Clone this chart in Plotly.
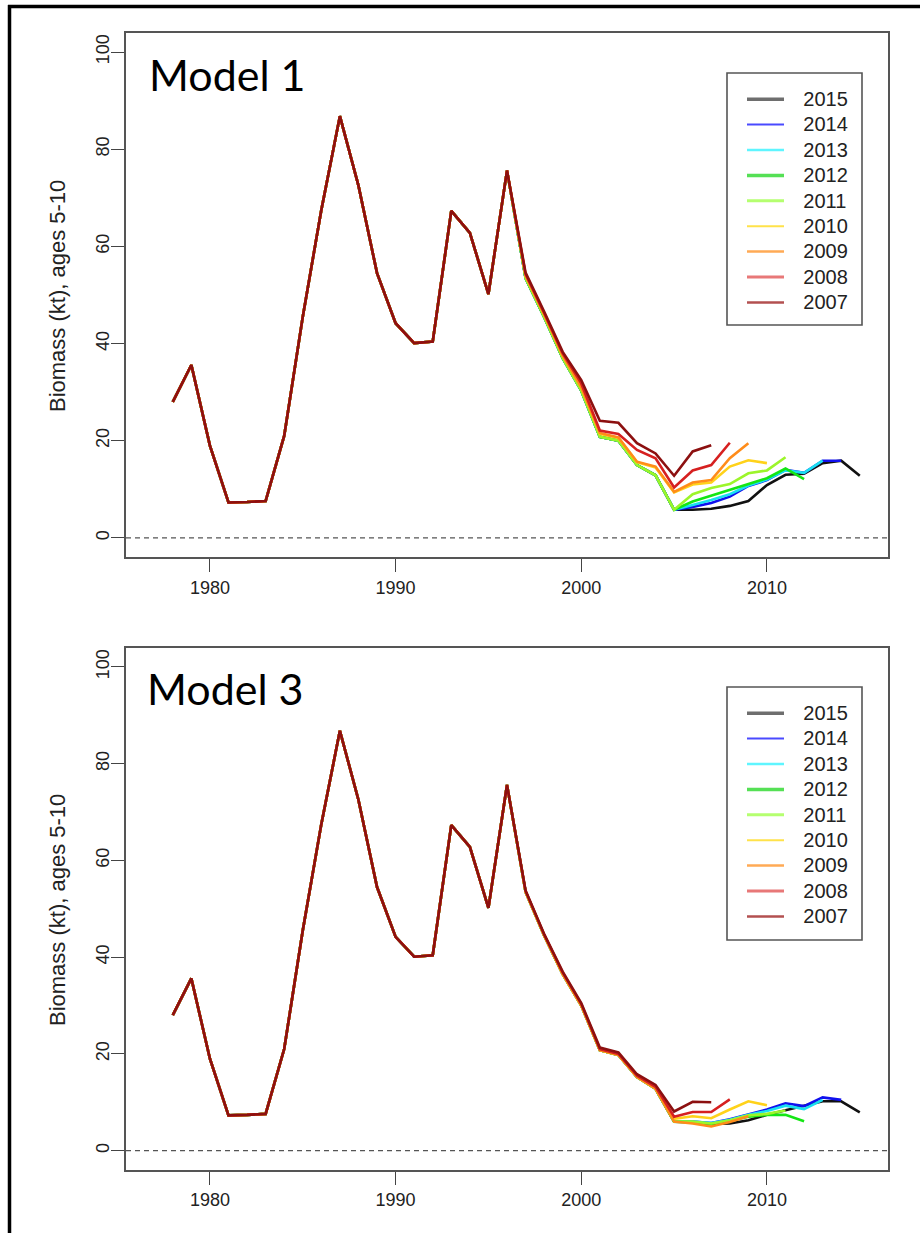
import plotly.graph_objects as go

# ---- data -------------------------------------------------------------
# Shared early biomass history (kt), 1978-1996
early_years = list(range(1978, 1997))
early_biomass = [28.0, 35.6, 19.0, 7.3, 7.4, 7.6, 21.0, 45.5, 67.5, 86.8,
                 72.5, 54.5, 44.2, 40.1, 40.4, 67.3, 62.8, 50.2, 75.6]

# Assessment (terminal) years, in drawing order
runs = [2015, 2014, 2013, 2012, 2011, 2010, 2009, 2008, 2007]

# Model 1: estimates from 1997 up to each run's terminal year
m1_2015 = [53.5, 45.5, 37.0, 30.3, 20.8, 20.0, 15.0, 12.9, 5.8, 5.8, 6.0, 6.6, 7.6, 10.9, 13.0, 13.2, 15.4, 15.9, 12.8]
m1_2014 = [53.5, 45.5, 37.0, 30.3, 20.8, 20.0, 15.0, 12.9, 5.8, 6.4, 7.2, 8.5, 10.7, 11.9, 14.0, 13.4, 15.9, 15.9]
m1_2013 = [53.5, 45.5, 37.0, 30.3, 20.8, 20.0, 15.0, 12.9, 5.8, 6.8, 7.8, 9.0, 10.8, 12.0, 13.9, 13.4, 15.9]
m1_2012 = [53.5, 45.5, 37.0, 30.3, 20.8, 20.0, 15.0, 12.9, 5.8, 7.5, 8.7, 9.9, 11.2, 12.3, 14.3, 12.1]
m1_2011 = [53.5, 45.5, 37.0, 30.3, 20.8, 20.0, 15.0, 12.9, 5.8, 9.0, 10.3, 11.1, 13.3, 13.9, 16.6]
m1_2010 = [54.0, 46.0, 37.5, 31.0, 21.4, 20.6, 15.6, 14.5, 9.4, 11.0, 11.4, 14.7, 16.0, 15.4]
m1_2009 = [54.0, 46.0, 37.5, 31.0, 21.6, 20.7, 15.7, 14.7, 9.5, 11.4, 11.9, 16.4, 19.5]
m1_2008 = [54.3, 46.3, 38.0, 31.8, 22.1, 21.4, 18.1, 16.4, 10.4, 13.9, 15.0, 19.6]
m1_2007 = [54.6, 46.6, 38.3, 32.5, 24.1, 23.7, 19.5, 17.4, 12.8, 17.8, 19.1]

# Model 3
m3_2015 = [53.5, 44.5, 36.5, 30.0, 20.8, 19.8, 15.2, 12.8, 6.0, 5.9, 5.5, 5.6, 6.3, 7.4, 8.3, 9.3, 10.2, 10.2, 7.9]
m3_2014 = [53.5, 44.5, 36.5, 30.0, 20.8, 19.8, 15.2, 12.8, 6.1, 6.0, 5.7, 6.5, 7.5, 8.5, 9.8, 9.2, 11.0, 10.5]
m3_2013 = [53.5, 44.5, 36.5, 30.0, 20.8, 19.8, 15.2, 12.8, 6.1, 6.0, 5.7, 6.4, 7.4, 8.2, 9.3, 8.6, 10.5]
m3_2012 = [53.5, 44.5, 36.5, 30.0, 20.8, 19.8, 15.2, 12.8, 6.0, 5.9, 5.5, 6.2, 7.0, 7.4, 7.4, 6.1]
m3_2011 = [53.5, 44.5, 36.5, 30.0, 20.8, 19.8, 15.2, 12.8, 6.0, 6.0, 5.6, 6.3, 7.3, 7.6, 8.3]
m3_2010 = [53.5, 44.5, 36.5, 30.0, 20.8, 19.8, 15.2, 12.8, 6.6, 7.1, 6.7, 8.5, 10.2, 9.4]
m3_2009 = [53.5, 44.5, 36.5, 30.0, 20.8, 19.8, 15.2, 12.8, 6.0, 5.6, 5.0, 5.9, 7.1]
m3_2008 = [53.7, 44.7, 36.8, 30.3, 21.0, 20.0, 15.5, 13.2, 7.0, 8.0, 8.0, 10.6]
m3_2007 = [53.8, 44.8, 37.0, 30.5, 21.3, 20.3, 15.8, 13.6, 8.1, 10.1, 10.0]

model1 = [m1_2015, m1_2014, m1_2013, m1_2012, m1_2011, m1_2010, m1_2009, m1_2008, m1_2007]
model3 = [m3_2015, m3_2014, m3_2013, m3_2012, m3_2011, m3_2010, m3_2009, m3_2008, m3_2007]

y_ticks = [0, 20, 40, 60, 80, 100]
x_ticks = [1980, 1990, 2000, 2010]
y_title = "Biomass (kt), ages 5-10"

# ---- styling ----------------------------------------------------------
line_colors = ["#111111", "#1010ee", "#19e0f0", "#14e614", "#9cf52a",
               "#ffd21a", "#ff8c1a", "#d62020", "#8c1010"]
key_colors = ["#6e6e6e", "#4a4aff", "#5ff5ff", "#55e055", "#b5ff70",
              "#ffe24a", "#ffaa55", "#e87878", "#b35050"]
key_widths = [3.5, 2, 2.5, 3.5, 3, 2, 2.5, 3, 2.5]

W, H = 920, 1233
x_dom = [126 / W, 888 / W]
top_dom = [1 - 557.4 / H, 1 - 32.6 / H]
bot_dom = [1 - 1170 / H, 1 - 647.6 / H]

SANS = "Liberation Sans, Arial, sans-serif"
tick_font = dict(family=SANS, size=18, color="#222")

fig = go.Figure()

panels = [("x", "y", "legend", model1), ("x2", "y2", "legend2", model3)]
for xa, ya, leg, model in panels:
    for run, vals, col in zip(runs, model, line_colors):
        yrs = early_years + list(range(1997, run + 1))
        fig.add_trace(go.Scatter(
            x=yrs, y=early_biomass + vals, mode="lines",
            line=dict(color=col, width=2.6), xaxis=xa, yaxis=ya,
            showlegend=False, hoverinfo="skip"))
    # legend keys
    for run, kc, kw in zip(runs, key_colors, key_widths):
        fig.add_trace(go.Scatter(
            x=[None], y=[None], mode="lines",
            name="\u00a0\u00a0\u00a0<span style='font-size:20px'>%d</span>" % run,
            line=dict(color=kc, width=kw), xaxis=xa, yaxis=ya,
            legend=leg, showlegend=True))

xcommon = dict(range=[1975.48, 2016.52], tickvals=x_ticks, ticks="outside",
               ticklen=13, tickwidth=1, tickcolor="#444", showline=True,
               mirror=True, linecolor="#555", linewidth=1.6, showgrid=False,
               zeroline=False, tickfont=tick_font, domain=x_dom)
ycommon = dict(range=[-4, 104], tickvals=y_ticks, ticks="outside",
               ticklen=13, tickwidth=1, tickcolor="#444", showline=True,
               mirror=True, linecolor="#555", linewidth=1.6, showgrid=False,
               zeroline=False, tickfont=tick_font, tickangle=-90,
               ticklabelstandoff=-5)

legend_common = dict(xanchor="left", yanchor="top", borderwidth=0,
                     bgcolor="rgba(0,0,0,0)",
                     font=dict(family=SANS, size=17.23, color="#222"),
                     itemwidth=37)

# legend frames
legend_boxes = [(727, 73, 862, 325), (727, 687, 862, 940)]
frame_shapes = [dict(type="rect", xref="paper", yref="paper",
                     x0=a / W, x1=c / W, y0=1 - d / H, y1=1 - b / H,
                     line=dict(color="#555", width=1.6), fillcolor="white",
                     layer="below")
                for a, b, c, d in legend_boxes]

title_font = dict(family=SANS, size=22, color="#222")

fig.update_layout(
    width=W, height=H, margin=dict(l=0, r=0, t=0, b=0),
    paper_bgcolor="white", plot_bgcolor="white",
    xaxis=dict(**xcommon, anchor="y"),
    yaxis=dict(**ycommon, domain=top_dom, anchor="x"),
    xaxis2=dict(**xcommon, anchor="y2"),
    yaxis2=dict(**ycommon, domain=bot_dom, anchor="x2"),
    legend=dict(**legend_common, x=742 / W, y=1 - 81.5 / H),
    legend2=dict(**legend_common, x=742 / W, y=1 - 695.5 / H),
    annotations=[
        dict(text="Model 1", x=147 / W, y=1 - 74 / H, xref="paper", yref="paper",
             xanchor="left", yanchor="middle", showarrow=False,
             font=dict(family="Lato, sans-serif", size=43, color="black")),
        dict(text="Model 3", x=145 / W, y=1 - 688 / H, xref="paper", yref="paper",
             xanchor="left", yanchor="middle", showarrow=False,
             font=dict(family="Lato, sans-serif", size=43, color="black")),
        dict(text=y_title, x=57 / W, y=1 - 296 / H, xref="paper", yref="paper",
             xanchor="center", yanchor="middle", textangle=-90, showarrow=False,
             font=title_font),
        dict(text=y_title, x=57 / W, y=1 - 910 / H, xref="paper", yref="paper",
             xanchor="center", yanchor="middle", textangle=-90, showarrow=False,
             font=title_font),
    ],
    shapes=frame_shapes + [
        # zero reference lines
        dict(type="line", xref="x domain", yref="y", x0=0, x1=1, y0=0, y1=0,
             line=dict(color="#555", width=1.3, dash="5px,4px")),
        dict(type="line", xref="x2 domain", yref="y2", x0=0, x1=1, y0=0, y1=0,
             line=dict(color="#555", width=1.3, dash="5px,4px")),
        # outer frame
        dict(type="line", xref="paper", yref="paper", x0=8 / W, x1=1,
             y0=1 - 6.5 / H, y1=1 - 6.5 / H, line=dict(color="black", width=3.5)),
        dict(type="line", xref="paper", yref="paper", x0=9.5 / W, x1=9.5 / W,
             y0=0, y1=1 - 5 / H, line=dict(color="black", width=3.5)),
    ],
)

fig.write_html("out.html")
